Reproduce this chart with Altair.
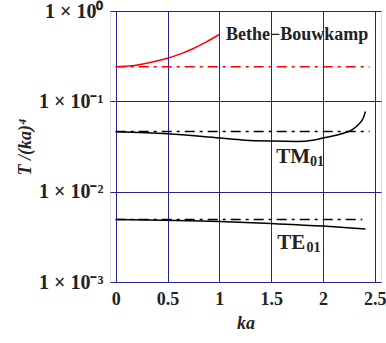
import altair as alt
import pandas as pd

# Bethe-Bouwkamp (red solid)
bb_x = [0.0, 0.125, 0.25, 0.375, 0.5, 0.625, 0.75, 0.875, 1.0]
bb_y = [0.242, 0.246, 0.258, 0.276, 0.300, 0.335, 0.385, 0.455, 0.550]
# TM01 (black solid)
tm_x = [0.0, 0.5, 1.0, 1.25, 1.5, 1.75, 1.9, 2.0, 2.18, 2.28, 2.34, 2.39, 2.41]
tm_y = [0.0460, 0.0437, 0.0392, 0.0371, 0.0363, 0.0360, 0.0371, 0.0392, 0.0437, 0.0484, 0.0550, 0.0657, 0.0771]
# TE01 (black solid)
te_x = [0.0, 1.0, 1.5, 2.0, 2.41]
te_y = [0.00491, 0.00467, 0.00443, 0.00416, 0.00387]
# dash-dot limits (horizontal)
ref_series = ["BB", "TM", "TE"]
ref_vals = [0.242, 0.0464, 0.00491]
ref_x0 = [0.0, 0.0, 0.0]
ref_x1 = [2.45, 2.45, 2.38]
ref_colors = ["#ff0000", "#000000", "#000000"]
# labels
main_text = ["Bethe\u2212Bouwkamp", "TM", "TE"]
main_x = [1.065, 1.55, 1.56]
main_y = [0.543, 0.0244, 0.00273]
sub_text = ["01", "01"]
sub_x = [1.875, 1.84]
sub_y = [0.0244, 0.00273]

x_ticks = [0, 0.5, 1, 1.5, 2, 2.5]
y_ticks = [0.001, 0.01, 0.1, 1]

FONT = "Liberation Serif"
INK = "#222222"

xs = alt.Scale(domain=[-0.055, 2.56], nice=False, zero=False)
ys = alt.Scale(type="log", domain=[0.001, 1], nice=False)

xax = alt.Axis(values=x_ticks, grid=True, gridColor="#22229a", gridWidth=1, gridOpacity=1,
               ticks=False, domain=False, labelFont=FONT, labelFontWeight="bold", labelFontSize=18,
               labelColor=INK, labelPadding=8, title="ka", titleFont=FONT, titleFontStyle="italic",
               titleFontWeight="bold", titleFontSize=18, titleColor=INK, titlePadding=6,
               labelExpr="datum.value")
yax = alt.Axis(values=y_ticks, grid=True, gridColor="#22229a", gridWidth=1, gridOpacity=1,
               ticks=False, domain=False, labelFont=FONT, labelFontWeight="bold", labelFontSize=20,
               labelColor=INK, labelPadding=7, title="T /(ka)\u2074", titleFont=FONT,
               titleFontStyle="italic", titleFontWeight="bold", titleFontSize=18, titleColor=INK,
               titlePadding=4,
               labelExpr="datum.value == 1 ? '1 \u00d7 10\u2070' : datum.value == 0.1 ? '1 \u00d7 10\u207b\u00b9' : datum.value == 0.01 ? '1 \u00d7 10\u207b\u00b2' : '1 \u00d7 10\u207b\u00b3'")

bb = pd.DataFrame({"x": bb_x, "y": bb_y})
tm = pd.DataFrame({"x": tm_x, "y": tm_y})
te = pd.DataFrame({"x": te_x, "y": te_y})

ref = pd.DataFrame({"s": ref_series * 2, "x": ref_x0 + ref_x1, "y": ref_vals * 2,
                    "c": ref_colors * 2})

base_x = alt.X("x:Q", scale=xs, axis=xax)
base_y = alt.Y("y:Q", scale=ys, axis=yax)

l_bb = alt.Chart(bb).mark_line(color="#ff0000", strokeWidth=1.5, interpolate="monotone").encode(x=base_x, y=base_y)
l_tm = alt.Chart(tm).mark_line(color="#000000", strokeWidth=1.5, interpolate="monotone").encode(x="x:Q", y="y:Q")
l_te = alt.Chart(te).mark_line(color="#000000", strokeWidth=1.5, interpolate="monotone").encode(x="x:Q", y="y:Q")
l_ref = alt.Chart(ref).mark_line(strokeWidth=1.5, strokeDash=[10, 5, 3, 5]).encode(
    x="x:Q", y="y:Q", detail="s:N", color=alt.Color("c:N", scale=None))

mains = pd.DataFrame({"t": main_text, "x": main_x, "y": main_y})
subs = pd.DataFrame({"t": sub_text, "x": sub_x, "y": sub_y})
t_bb = alt.Chart(mains.iloc[[0]]).mark_text(font=FONT, fontWeight="bold", fontSize=18, align="left",
                                             baseline="middle", color=INK).encode(x="x:Q", y="y:Q", text="t:N")
t_main = alt.Chart(mains.iloc[1:]).mark_text(font=FONT, fontWeight="bold", fontSize=21, align="left",
                                              baseline="middle", color=INK).encode(x="x:Q", y="y:Q", text="t:N")
t_sub = alt.Chart(subs).mark_text(font=FONT, fontWeight="bold", fontSize=14, align="left",
                                  baseline="middle", dy=5, color=INK).encode(x="x:Q", y="y:Q", text="t:N")

chart = alt.layer(l_bb, l_tm, l_te, l_ref, t_bb, t_main, t_sub).properties(
    width=271, height=271,
    autosize=alt.AutoSizeParams(type="none"),
    padding={"left": 110, "top": 11, "right": 5, "bottom": 61},
).configure_view(stroke="#000000", strokeWidth=1.5).configure(background="white")

chart.save("out.html", embed_options={"renderer": "svg", "actions": False})
